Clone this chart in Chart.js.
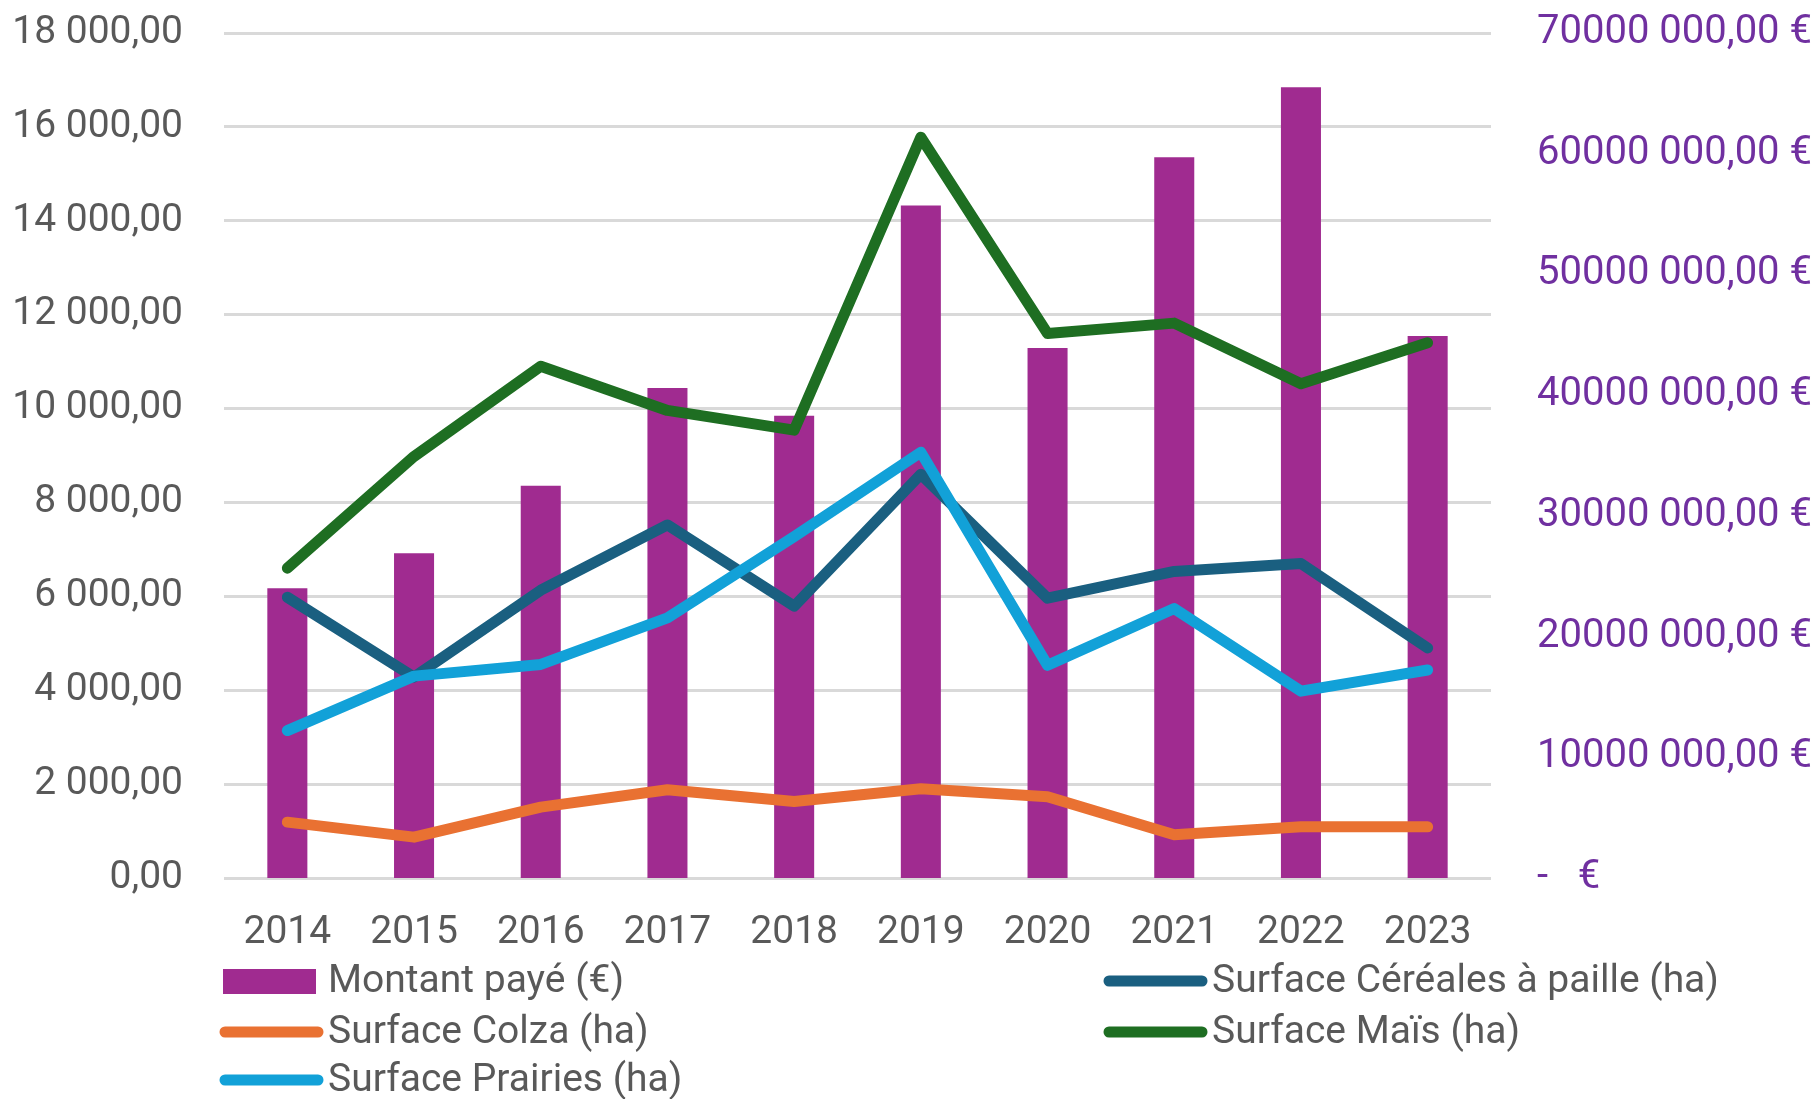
<!DOCTYPE html>
<html>
<head>
<meta charset="utf-8">
<script src="https://cdn.jsdelivr.net/npm/chart.js@4.4.1/dist/chart.umd.min.js"></script>
<style>
  html, body { margin: 0; padding: 0; background: #fff; }
  #wrap { width: 1819px; height: 1099px; }
</style>
</head>
<body>
<div id="wrap"><canvas id="myChart"></canvas></div>
<script>
// years on the x axis
const years = ['2014', '2015', '2016', '2017', '2018', '2019', '2020', '2021', '2022', '2023'];

// amount paid (€), right axis
const montantPaye = [24000000, 26900000, 32500000, 40600000, 38300000, 55700000, 43900000, 59700000, 65500000, 44900000];

// surfaces (ha), left axis
const surfaceCereales = [5980, 4280, 6130, 7520, 5790, 8600, 5960, 6530, 6700, 4900];
const surfaceColza = [1190, 870, 1510, 1880, 1630, 1900, 1730, 920, 1090, 1090];
const surfaceMais = [6600, 8980, 10900, 9960, 9540, 15780, 11600, 11820, 10530, 11400];
const surfacePrairies = [3140, 4300, 4550, 5540, 7270, 9070, 4530, 5740, 3980, 4430];

const seriesLabels = ['Montant payé (€)', 'Surface Céréales à paille (ha)', 'Surface Colza (ha)', 'Surface Maïs (ha)', 'Surface Prairies (ha)'];

const FONT = 'Roboto, "Liberation Sans", sans-serif';
const GREY = '#595959';

function fmtLeft(v) {
  const parts = v.toFixed(2).split('.');
  const intPart = parts[0].replace(/\B(?=(\d{3})+(?!\d))/g, ' ');
  return intPart + ',' + parts[1];
}

function fmtRight(v) {
  if (v === 0) return '-   €';
  const k = Math.floor(v / 1000);
  const rest = String(v % 1000).padStart(3, '0');
  return k + ' ' + rest + ',00 €';
}

// two-column legend drawn under the axis, like the original
const legendPlugin = {
  id: 'gridLegend',
  afterDraw(chart) {
    const ctx = chart.ctx;
    const spots = [
      { x: 220, y: 981 },
      { x: 1104, y: 981 },
      { x: 220, y: 1032 },
      { x: 1104, y: 1032 },
      { x: 220, y: 1080 }
    ];
    ctx.save();
    ctx.font = '39px ' + FONT;
    ctx.textBaseline = 'middle';
    chart.data.datasets.forEach((ds, i) => {
      const p = spots[i];
      if (ds.type === 'bar') {
        ctx.fillStyle = ds.backgroundColor;
        ctx.fillRect(p.x + 3, p.y - 12, 93, 25);
      } else {
        ctx.strokeStyle = ds.borderColor;
        ctx.lineWidth = 11;
        ctx.lineCap = 'round';
        ctx.beginPath();
        ctx.moveTo(p.x + 5, p.y);
        ctx.lineTo(p.x + 98, p.y);
        ctx.stroke();
      }
      ctx.fillStyle = GREY;
      ctx.fillText(ds.label, p.x + 108, p.y + 1);
    });
    ctx.restore();
  }
};

const lineBase = {
  type: 'line',
  yAxisID: 'y',
  borderWidth: 11,
  pointRadius: 0,
  pointHoverRadius: 0,
  tension: 0,
  borderJoinStyle: 'round',
  borderCapStyle: 'round',
  fill: false
};

// fixed axis size, and no extra padding from the tick labels
function fixVertical(width) {
  return s => {
    s.width = width;
    s.paddingTop = 0;
    s.paddingBottom = 0;
  };
}

const ctx = document.getElementById('myChart').getContext('2d');
const myChart = new Chart(ctx, {
  data: {
    labels: years,
    datasets: [
      {
        type: 'bar',
        label: seriesLabels[0],
        data: montantPaye,
        yAxisID: 'y1',
        backgroundColor: '#A02B90',
        categoryPercentage: 1,
        barPercentage: 0.316,
        order: 5
      },
      Object.assign({}, lineBase, { label: seriesLabels[1], data: surfaceCereales, borderColor: '#1A5F80', order: 4 }),
      Object.assign({}, lineBase, { label: seriesLabels[2], data: surfaceColza, borderColor: '#E97132', order: 3 }),
      Object.assign({}, lineBase, { label: seriesLabels[3], data: surfaceMais, borderColor: '#1E6E22', order: 2 }),
      Object.assign({}, lineBase, { label: seriesLabels[4], data: surfacePrairies, borderColor: '#12A1D8', order: 1 })
    ]
  },
  options: {
    responsive: true,
    maintainAspectRatio: false,
    animation: false,
    layout: { padding: { top: 33, bottom: 121, left: 0, right: 0 } },
    plugins: {
      legend: { display: false },
      tooltip: { enabled: false }
    },
    scales: {
      x: {
        offset: true,
        grid: { display: false, drawTicks: false },
        border: { display: false },
        ticks: { color: GREY, font: { family: FONT, size: 39 }, padding: 32, maxRotation: 0 },
        afterFit: s => { s.height = 100; s.paddingLeft = 0; s.paddingRight = 0; }
      },
      y: {
        position: 'left',
        min: 0,
        max: 18000,
        grid: { color: '#D9D9D9', lineWidth: 3, drawTicks: false },
        border: { display: false },
        ticks: { stepSize: 2000, color: GREY, font: { family: FONT, size: 39 }, padding: 41, callback: v => fmtLeft(v) },
        afterFit: fixVertical(224)
      },
      y1: {
        position: 'right',
        min: 0,
        max: 70000000,
        grid: { display: false, drawTicks: false },
        border: { display: false },
        ticks: { stepSize: 10000000, color: '#7030A0', font: { family: FONT, size: 40 }, padding: 46, callback: v => fmtRight(v) },
        afterFit: fixVertical(328)
      }
    }
  },
  plugins: [legendPlugin]
});
</script>
</body>
</html>
